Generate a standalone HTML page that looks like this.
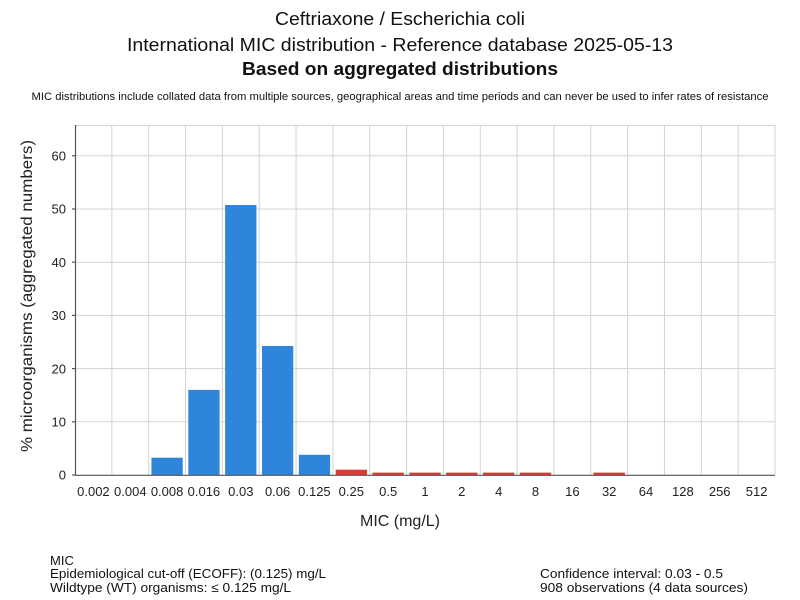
<!DOCTYPE html>
<html><head><meta charset="utf-8"><style>
html,body{margin:0;padding:0;background:#fff;}
svg{display:block;font-family:"Liberation Sans",sans-serif;}
</style></head><body>
<svg width="800" height="600" viewBox="0 0 800 600" xmlns="http://www.w3.org/2000/svg">
<rect width="800" height="600" fill="#fff"/>
<!-- titles -->
<text x="400" y="25" font-size="18" text-anchor="middle" fill="#111" textLength="250" lengthAdjust="spacingAndGlyphs">Ceftriaxone / Escherichia coli</text>
<text x="400" y="51" font-size="18" text-anchor="middle" fill="#111" textLength="546" lengthAdjust="spacingAndGlyphs">International MIC distribution - Reference database 2025-05-13</text>
<text x="400" y="75" font-size="18" font-weight="bold" text-anchor="middle" fill="#111" textLength="316" lengthAdjust="spacingAndGlyphs">Based on aggregated distributions</text>
<text x="400" y="100" font-size="11" text-anchor="middle" fill="#111" textLength="737" lengthAdjust="spacingAndGlyphs">MIC distributions include collated data from multiple sources, geographical areas and time periods and can never be used to infer rates of resistance</text>
<!-- grid -->
<g stroke="#d3d3d3" stroke-width="1">
<line x1="75" y1="125.5" x2="775" y2="125.5"/>
<line x1="75" y1="155.8" x2="775" y2="155.8"/>
<line x1="75" y1="209" x2="775" y2="209"/>
<line x1="75" y1="262.2" x2="775" y2="262.2"/>
<line x1="75" y1="315.4" x2="775" y2="315.4"/>
<line x1="75" y1="368.6" x2="775" y2="368.6"/>
<line x1="75" y1="421.8" x2="775" y2="421.8"/>
<line x1="111.84" y1="125" x2="111.84" y2="475"/>
<line x1="148.68" y1="125" x2="148.68" y2="475"/>
<line x1="185.53" y1="125" x2="185.53" y2="475"/>
<line x1="222.37" y1="125" x2="222.37" y2="475"/>
<line x1="259.21" y1="125" x2="259.21" y2="475"/>
<line x1="296.05" y1="125" x2="296.05" y2="475"/>
<line x1="332.89" y1="125" x2="332.89" y2="475"/>
<line x1="369.74" y1="125" x2="369.74" y2="475"/>
<line x1="406.58" y1="125" x2="406.58" y2="475"/>
<line x1="443.42" y1="125" x2="443.42" y2="475"/>
<line x1="480.26" y1="125" x2="480.26" y2="475"/>
<line x1="517.11" y1="125" x2="517.11" y2="475"/>
<line x1="553.95" y1="125" x2="553.95" y2="475"/>
<line x1="590.79" y1="125" x2="590.79" y2="475"/>
<line x1="627.63" y1="125" x2="627.63" y2="475"/>
<line x1="664.47" y1="125" x2="664.47" y2="475"/>
<line x1="701.32" y1="125" x2="701.32" y2="475"/>
<line x1="738.16" y1="125" x2="738.16" y2="475"/>
<line x1="775" y1="125" x2="775" y2="475"/>
</g>
<!-- bars -->
<g fill="#2f85da">
<rect x="151.44" y="457.7" width="31.3" height="17.3"/>
<rect x="188.29" y="389.9" width="31.3" height="85.1"/>
<rect x="225.13" y="205" width="31.3" height="270"/>
<rect x="261.97" y="346" width="31.3" height="129"/>
<rect x="298.81" y="454.8" width="31.3" height="20.2"/>
</g>
<g fill="#e53535">
<rect x="335.66" y="469.7" width="31.3" height="5.3"/>
<rect x="372.50" y="472.6" width="31.3" height="2.4"/>
<rect x="409.34" y="472.6" width="31.3" height="2.4"/>
<rect x="446.18" y="472.6" width="31.3" height="2.4"/>
<rect x="483.02" y="472.6" width="31.3" height="2.4"/>
<rect x="519.87" y="472.6" width="31.3" height="2.4"/>
<rect x="593.55" y="472.6" width="31.3" height="2.4"/>
</g>
<!-- axes -->
<g stroke="#555" stroke-width="1.2">
<line x1="75.5" y1="125" x2="75.5" y2="475.5"/>
<line x1="75" y1="475.3" x2="775" y2="475.3"/>
<line x1="72" y1="155.8" x2="75" y2="155.8"/>
<line x1="72" y1="209" x2="75" y2="209"/>
<line x1="72" y1="262.2" x2="75" y2="262.2"/>
<line x1="72" y1="315.4" x2="75" y2="315.4"/>
<line x1="72" y1="368.6" x2="75" y2="368.6"/>
<line x1="72" y1="421.8" x2="75" y2="421.8"/>
<line x1="72" y1="475" x2="75" y2="475"/>
</g>
<!-- y tick labels -->
<g font-size="13" fill="#222" text-anchor="end">
<text x="66" y="160.5">60</text>
<text x="66" y="213.7">50</text>
<text x="66" y="266.9">40</text>
<text x="66" y="320.1">30</text>
<text x="66" y="373.3">20</text>
<text x="66" y="426.5">10</text>
<text x="66" y="479.7">0</text>
</g>
<!-- x tick labels -->
<g font-size="13" fill="#222" text-anchor="middle">
<text x="93.4" y="496">0.002</text>
<text x="130.3" y="496">0.004</text>
<text x="167.1" y="496">0.008</text>
<text x="203.9" y="496">0.016</text>
<text x="240.8" y="496">0.03</text>
<text x="277.6" y="496">0.06</text>
<text x="314.4" y="496">0.125</text>
<text x="351.3" y="496">0.25</text>
<text x="388.2" y="496">0.5</text>
<text x="425" y="496">1</text>
<text x="461.8" y="496">2</text>
<text x="498.7" y="496">4</text>
<text x="535.5" y="496">8</text>
<text x="572.4" y="496">16</text>
<text x="609.2" y="496">32</text>
<text x="646" y="496">64</text>
<text x="682.9" y="496">128</text>
<text x="719.7" y="496">256</text>
<text x="756.6" y="496">512</text>
</g>
<!-- axis titles -->
<text x="400" y="526" font-size="16" text-anchor="middle" fill="#222" textLength="80" lengthAdjust="spacingAndGlyphs">MIC (mg/L)</text>
<text transform="translate(32,296) rotate(-90)" x="0" y="0" font-size="16" text-anchor="middle" fill="#222" textLength="312" lengthAdjust="spacingAndGlyphs">% microorganisms (aggregated numbers)</text>
<!-- footer -->
<g font-size="13" fill="#111">
<text x="50" y="565">MIC</text>
<text x="50" y="578" textLength="276" lengthAdjust="spacingAndGlyphs">Epidemiological cut-off (ECOFF): (0.125) mg/L</text>
<text x="50" y="592" textLength="241" lengthAdjust="spacingAndGlyphs">Wildtype (WT) organisms: ≤ 0.125 mg/L</text>
<text x="540" y="578" textLength="183" lengthAdjust="spacingAndGlyphs">Confidence interval: 0.03 - 0.5</text>
<text x="540" y="592" textLength="208" lengthAdjust="spacingAndGlyphs">908 observations (4 data sources)</text>
</g>
</svg>
</body></html>
